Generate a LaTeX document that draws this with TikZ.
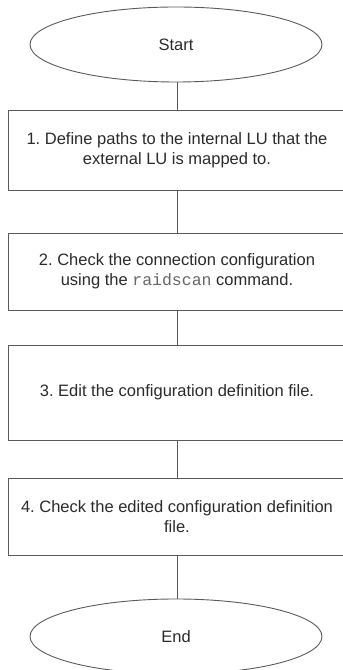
\documentclass[tikz,border=0pt]{standalone}
\usepackage{fontspec}
\setmainfont{Liberation Sans}
\newfontfamily\codefont{Liberation Mono}
\usetikzlibrary{shapes.geometric}
\definecolor{linegray}{HTML}{5A5A5A}
\definecolor{txtgray}{HTML}{2A2A2A}
\frenchspacing
\tikzset{
  x=1pt, y=1pt,
  term/.style={ellipse, draw=linegray, line width=0.9pt, minimum width=292pt, minimum height=75pt, inner sep=0pt, text=txtgray, font=\fontsize{16.5}{20}\selectfont},
  stepbox/.style={rectangle, draw=linegray, line width=0.9pt, minimum width=338pt, inner sep=0pt, text=txtgray, align=center, font=\fontsize{16.5}{20}\selectfont},
  conn/.style={draw=linegray, line width=0.9pt}
}
\begin{document}
\begin{tikzpicture}
\useasboundingbox (0,0) rectangle (343,670);
\clip (0,0) rectangle (343,670);
\node[term] (start) at (176,625.5) {Start};
\node[stepbox, minimum height=80pt] (s1) at (177,520) {1. Define paths to the internal LU that the\\external LU is mapped to.};
\node[stepbox, minimum height=77pt] (s2) at (177,398.5) {2. Check the connection configuration\\using the {\codefont\color{black!60}raidscan} command.};
\node[stepbox, minimum height=95pt] (s3) at (177,277.5) {3. Edit the configuration definition file.};
\node[stepbox, minimum height=77pt] (s4) at (177,153.5) {4. Check the edited configuration definition\\file.};
\node[term] (end) at (176,33.5) {End};
\draw[conn] (start.south -| s1.north) -- (s1.north);
\draw[conn] (s1) -- (s2);
\draw[conn] (s2) -- (s3);
\draw[conn] (s3) -- (s4);
\draw[conn] (s4.south) -- (end.north -| s4.south);
\end{tikzpicture}
\end{document}
